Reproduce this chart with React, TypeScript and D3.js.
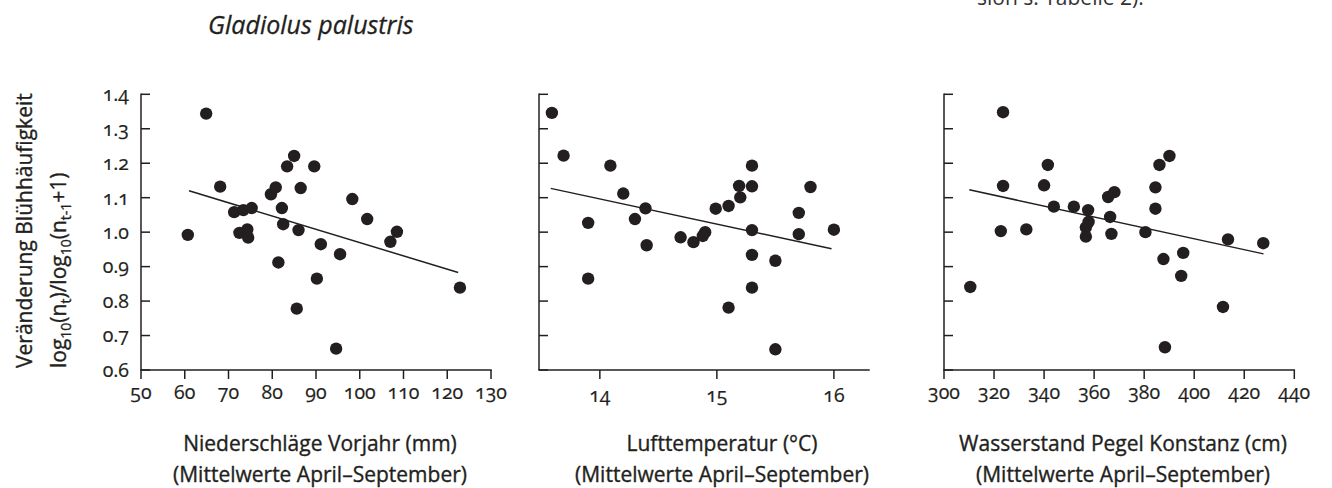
import React from 'react';
import * as d3 from 'd3';

// ---------- data ----------
const yTickValues = [0.6, 0.7, 0.8, 0.9, 1.0, 1.1, 1.2, 1.3, 1.4];

const precipTicks = [50, 60, 70, 80, 90, 100, 110, 120, 130];
const precipX = [60.7, 64.9, 68.1, 71.3, 73.4, 75.3, 72.5, 74.3, 74.5, 79.7, 80.8, 81.4, 82.2, 82.5, 83.4, 85.0, 85.6, 86.0, 86.5, 89.6, 90.2, 91.1, 94.6, 95.5, 98.3, 101.7, 107.0, 108.5, 122.9];
const precipY = [0.992, 1.344, 1.132, 1.058, 1.064, 1.070, 0.998, 1.008, 0.984, 1.110, 1.130, 0.912, 1.070, 1.023, 1.191, 1.221, 0.778, 1.006, 1.128, 1.191, 0.865, 0.965, 0.662, 0.936, 1.096, 1.038, 0.972, 1.001, 0.839];
const precipLineX = [60.97, 122.5];
const precipLineY = [1.120, 0.883];

const tempTicks = [14, 15, 16];
const tempX = [13.59, 13.69, 13.90, 13.90, 14.09, 14.20, 14.30, 14.39, 14.40, 14.69, 14.80, 14.90, 14.88, 14.99, 15.10, 15.10, 15.19, 15.20, 15.30, 15.30, 15.30, 15.30, 15.30, 15.50, 15.50, 15.70, 15.70, 15.80, 16.00];
const tempY = [1.346, 1.222, 1.027, 0.865, 1.193, 1.112, 1.038, 1.069, 0.962, 0.985, 0.971, 1.000, 0.989, 1.068, 1.076, 0.781, 1.134, 1.101, 1.193, 1.133, 1.006, 0.934, 0.839, 0.917, 0.660, 1.056, 0.994, 1.131, 1.007];
const tempLineX = [13.58, 15.98];
const tempLineY = [1.127, 0.952];

const waterTicks = [300, 320, 340, 360, 380, 400, 420, 440];
const waterX = [310.5, 323.6, 323.6, 322.7, 332.9, 341.5, 340.0, 343.9, 351.9, 357.6, 357.8, 356.7, 356.7, 365.6, 368.1, 366.4, 366.9, 380.5, 384.5, 384.5, 386.1, 390.1, 387.7, 388.3, 395.6, 394.8, 411.5, 413.5, 427.6];
const waterY = [0.841, 1.348, 1.134, 1.003, 1.008, 1.195, 1.136, 1.074, 1.074, 1.064, 1.030, 1.014, 0.987, 1.102, 1.116, 1.044, 0.995, 1.000, 1.130, 1.068, 1.195, 1.221, 0.922, 0.666, 0.940, 0.873, 0.783, 0.979, 0.968];
const waterLineX = [310.1, 427.7];
const waterLineY = [1.123, 0.937];

const titles1 = ['Niederschläge Vorjahr (mm)', 'Lufttemperatur (°C)', 'Wasserstand Pegel Konstanz (cm)'];
const titles2 = ['(Mittelwerte April–September)', '(Mittelwerte April–September)', '(Mittelwerte April–September)'];

// ---------- layout ----------
const INK = '#231f20';
const FONT = '"Open Sans", "Noto Sans", sans-serif';
const yTop = 94.3;
const yBottom = 370;
const TEXT_STROKE = 0.35;

const yScale = d3.scaleLinear().domain([0.6, 1.4]).range([yBottom, yTop]);

const panels = [
  { xs: precipX, ys: precipY, lx: precipLineX, ly: precipLineY, ticks: precipTicks, domain: [50, 130], range: [141, 491], labelY: 399, showY: true, title1: titles1[0], title2: titles2[0], cx: 320 },
  { xs: tempX, ys: tempY, lx: tempLineX, ly: tempLineY, ticks: tempTicks, domain: [13.48, 16.3], range: [539, 869], labelY: 402, showY: false, title1: titles1[1], title2: titles2[1], cx: 722 },
  { xs: waterX, ys: waterY, lx: waterLineX, ly: waterLineY, ticks: waterTicks, domain: [300, 440], range: [944, 1294.3], labelY: 399, showY: false, title1: titles1[2], title2: titles2[2], cx: 1123 },
];

const numStyle: React.CSSProperties = { fontVariantNumeric: 'oldstyle-nums' };

function Panel({ p }: { p: typeof panels[number] }) {
  const x = d3.scaleLinear().domain(p.domain).range(p.range);
  const x0 = p.range[0];
  const x1 = p.range[1];
  const line = d3.line<number>().x((_, i) => x(p.lx[i])).y((_, i) => yScale(p.ly[i]));
  return (
    <g>
      {/* y axis */}
      <line x1={x0} x2={x0} y1={yTop - 0.75} y2={yBottom} stroke={INK} strokeWidth={1.5} />
      {yTickValues.map((t) => (
        <g key={t}>
          <line x1={x0} x2={x0 + 9} y1={yScale(t)} y2={yScale(t)} stroke={INK} strokeWidth={1.5} />
          {p.showY && (
            <text x={x0 - 12} y={yScale(t)} dy="0.35em" textAnchor="end" fontSize={19.5} fill={INK} stroke={INK} strokeWidth={0.2} style={numStyle}>
              {d3.format('.1f')(t)}
            </text>
          )}
        </g>
      ))}
      {/* x axis */}
      <line x1={x0 - 0.75} x2={x1 + 0.75} y1={yBottom} y2={yBottom} stroke={INK} strokeWidth={1.5} />
      {p.ticks.map((t) => (
        <g key={t}>
          <line x1={x(t)} x2={x(t)} y1={yBottom} y2={yBottom + 9} stroke={INK} strokeWidth={1.5} />
          <text x={x(t)} y={p.labelY} textAnchor="middle" fontSize={19.5} fill={INK} stroke={INK} strokeWidth={0.2} style={numStyle}>
            {t}
          </text>
        </g>
      ))}
      {/* regression line */}
      <path d={line(p.lx) || ''} fill="none" stroke={INK} strokeWidth={1.5} />
      {/* points */}
      {p.xs.map((v, i) => (
        <circle key={i} cx={x(v)} cy={yScale(p.ys[i])} r={6.2} fill={INK} />
      ))}
      {/* axis titles */}
      <text x={p.cx} y={451} textAnchor="middle" fontSize={21} fill={INK} stroke={INK} strokeWidth={TEXT_STROKE}>{p.title1}</text>
      <text x={p.cx} y={482} textAnchor="middle" fontSize={21} fill={INK} stroke={INK} strokeWidth={TEXT_STROKE}>{p.title2}</text>
    </g>
  );
}

export default function App() {
  return (
    <svg
      width={1332}
      height={488}
      viewBox="0 0 1332 488"
      style={{ position: 'absolute', left: 0, top: 0, background: '#fff' }}
      fontFamily={FONT}
    >
      <rect x={0} y={0} width={1332} height={488} fill="#fff" />
      <text x={977} y={5} fontSize={21} fill="#333">sion s. Tabelle 2).</text>
      <text x={208} y={34} fontSize={25} fontStyle="italic" fill={INK} stroke={INK} strokeWidth={0.3}>Gladiolus palustris</text>
      {/* y axis label */}
      <text transform="rotate(-90)" x={-368} y={32} fontSize={21} fill={INK} stroke={INK} strokeWidth={TEXT_STROKE} textAnchor="start">
        Veränderung Blühhäufigkeit
      </text>
      <text transform="rotate(-90)" x={-368} y={66} fontSize={21} fill={INK} stroke={INK} strokeWidth={TEXT_STROKE} textAnchor="start">
        <tspan>log</tspan>
        <tspan fontSize={14} dy={5}>10</tspan>
        <tspan dy={-5}>(n</tspan>
        <tspan fontSize={14} dy={5}>t</tspan>
        <tspan dy={-5}>)/log</tspan>
        <tspan fontSize={14} dy={5}>10</tspan>
        <tspan dy={-5}>(n</tspan>
        <tspan fontSize={14} dy={5}>t-1</tspan>
        <tspan dy={-5}>+1)</tspan>
      </text>
      {panels.map((p, i) => (
        <Panel key={i} p={p} />
      ))}
    </svg>
  );
}
